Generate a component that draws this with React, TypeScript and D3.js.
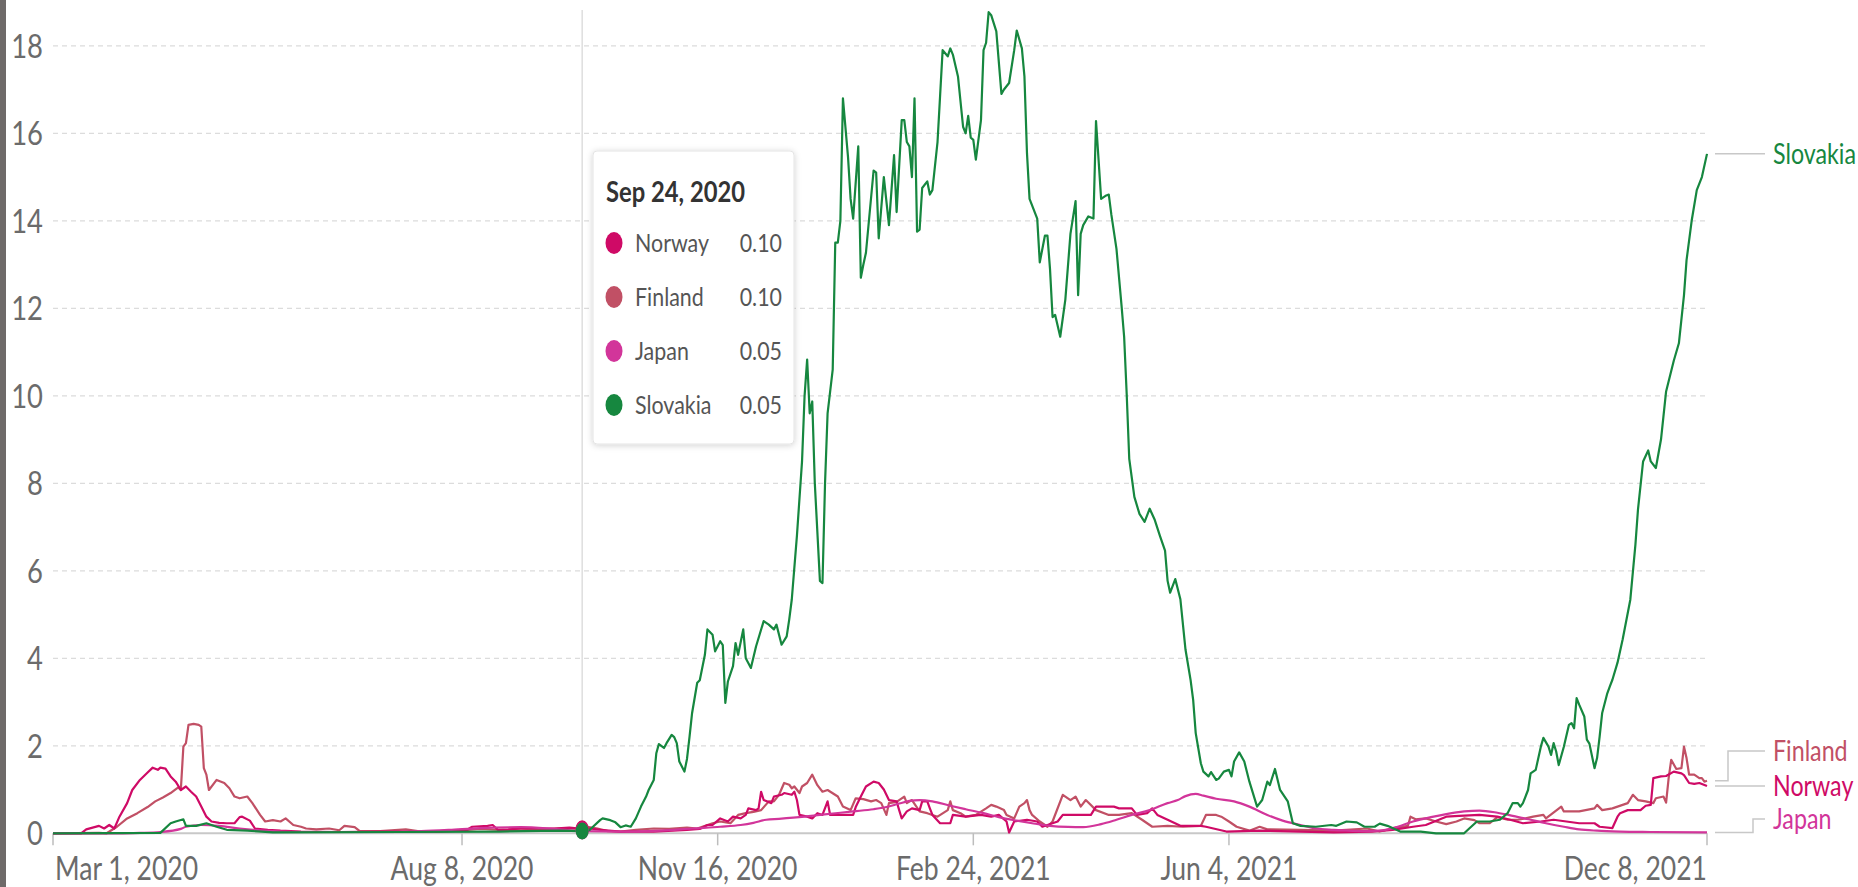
import React from 'react';
import * as d3 from 'd3';

// ---------- data (days since 2020-03-01, value) ----------
const START_DATE = new Date(2020, 2, 1);
const END_DATE = new Date(2021, 11, 8);

const yTicks = [0, 2, 4, 6, 8, 10, 12, 14, 16, 18];
const xTickDates = [
  new Date(2020, 2, 1),
  new Date(2020, 7, 8),
  new Date(2020, 10, 16),
  new Date(2021, 1, 24),
  new Date(2021, 5, 4),
  new Date(2021, 11, 8),
];
const xTickLabels = ['Mar 1, 2020', 'Aug 8, 2020', 'Nov 16, 2020', 'Feb 24, 2021', 'Jun 4, 2021', 'Dec 8, 2021'];

const seriesNames = ['Norway', 'Finland', 'Japan', 'Slovakia'];
const seriesColors = ['#CF0A66', '#C15065', '#D2359A', '#16873F'];
const hoverDate = new Date(2020, 8, 24);
const hoverLabel = 'Sep 24, 2020';
const hoverValues = ['0.10', '0.10', '0.05', '0.05'];

const norway: [number, number][] = [
  [0, 0], [11, 0], [13, 0.09], [18, 0.17], [20, 0.11], [22, 0.19], [24, 0.11], [26, 0.38], [29, 0.69],
  [31, 0.99], [34, 1.22], [37, 1.39], [39, 1.5], [41, 1.45], [42, 1.5], [44, 1.48], [46, 1.3], [48, 1.18],
  [50, 0.99], [52, 1.07], [54, 0.95], [56, 0.84], [58, 0.61], [60, 0.38], [62, 0.27], [65, 0.24], [68, 0.23],
  [71, 0.23], [73, 0.37], [74, 0.38], [77, 0.29], [79, 0.11], [84, 0.08], [89, 0.06], [97, 0.04], [112, 0.03],
  [128, 0.04], [144, 0.04], [151, 0.05], [162, 0.08], [164, 0.15], [170, 0.17], [172, 0.19], [174, 0.08],
  [178, 0.09], [183, 0.11], [196, 0.11], [202, 0.13], [207, 0.1], [210, 0.11], [214, 0.08], [222, 0.04],
  [235, 0.04], [248, 0.08], [253, 0.1], [256, 0.19], [258, 0.19], [261, 0.34], [264, 0.27], [266, 0.38],
  [269, 0.34], [271, 0.42], [272, 0.57], [275, 0.53], [276, 0.57], [277, 0.95], [278, 0.76], [281, 0.69],
  [282, 0.84], [285, 0.88], [286, 0.92], [289, 0.88], [290, 0.95], [291, 0.76], [292, 0.42], [295, 0.38],
  [297, 0.34], [299, 0.46], [301, 0.42], [303, 0.73], [304, 0.42], [308, 0.42], [313, 0.42], [314, 0.6],
  [316, 0.84], [318, 1.07], [321, 1.18], [323, 1.15], [325, 1.0], [327, 0.76], [330, 0.73], [331, 0.53],
  [332, 0.34], [334, 0.5], [336, 0.57], [339, 0.53], [340, 0.73], [342, 0.73], [343, 0.57], [344, 0.42],
  [347, 0.23], [351, 0.23], [352, 0.42], [357, 0.38], [363, 0.42], [367, 0.38], [370, 0.42], [373, 0.27],
  [374, 0.02], [376, 0.27], [381, 0.31], [385, 0.27], [387, 0.15], [393, 0.27], [395, 0.42], [400, 0.42],
  [406, 0.42], [408, 0.61], [415, 0.61], [417, 0.57], [422, 0.57], [424, 0.42], [428, 0.46], [430, 0.57],
  [432, 0.42], [436, 0.31], [441, 0.17], [449, 0.17], [451, 0.15], [459, 0.04], [472, 0.06], [488, 0.04],
  [501, 0.02], [516, 0.04], [524, 0.08], [532, 0.15], [537, 0.19], [545, 0.38], [550, 0.4], [558, 0.42],
  [565, 0.38], [570, 0.31], [575, 0.23], [582, 0.27], [587, 0.31], [592, 0.27], [597, 0.23], [603, 0.23],
  [605, 0.15], [610, 0.12], [612, 0.38], [613, 0.46], [616, 0.53], [621, 0.53], [623, 0.63], [625, 0.65],
  [626, 1.26], [629, 1.3], [631, 1.31], [634, 1.41], [637, 1.37], [638, 1.33], [640, 1.15], [642, 1.13],
  [644, 1.15], [647, 1.08],
];

const finland: [number, number][] = [
  [0, 0], [18, 0.01], [21, 0], [25, 0.15], [29, 0.34], [33, 0.46], [37, 0.6], [40, 0.73], [43, 0.82],
  [46, 0.92], [49, 1.05], [50, 0.99], [51, 1.98], [52, 2.06], [53, 2.48], [55, 2.5], [57, 2.48], [58, 2.44],
  [59, 1.49], [60, 1.34], [61, 0.99], [64, 1.22], [67, 1.15], [69, 1.03], [71, 0.84], [73, 0.8], [76, 0.84],
  [78, 0.69], [81, 0.42], [83, 0.27], [86, 0.3], [89, 0.27], [91, 0.34], [94, 0.19], [97, 0.15], [99, 0.11],
  [103, 0.09], [108, 0.11], [112, 0.07], [114, 0.17], [118, 0.14], [120, 0.05], [128, 0.05], [138, 0.09],
  [144, 0.04], [151, 0.03], [159, 0.06], [167, 0.1], [175, 0.08], [183, 0.07], [196, 0.1], [202, 0.12],
  [207, 0.1], [209, 0.15], [213, 0.11], [217, 0.05], [222, 0.04], [228, 0.08], [235, 0.11], [241, 0.1],
  [248, 0.13], [252, 0.11], [258, 0.23], [261, 0.27], [265, 0.23], [268, 0.42], [271, 0.46], [274, 0.49],
  [277, 0.53], [280, 0.73], [282, 0.73], [284, 0.88], [286, 1.15], [288, 1.11], [289, 1.03], [290, 1.07],
  [292, 0.92], [293, 1.07], [295, 1.15], [297, 1.34], [299, 1.1], [301, 0.95], [303, 0.99], [307, 0.84],
  [309, 0.61], [312, 0.53], [314, 0.8], [317, 0.78], [320, 0.73], [322, 0.76], [324, 0.69], [326, 0.42],
  [327, 0.69], [330, 0.72], [331, 0.76], [333, 0.84], [334, 0.69], [336, 0.76], [339, 0.5], [342, 0.46],
  [346, 0.38], [350, 0.53], [351, 0.73], [352, 0.53], [355, 0.46], [357, 0.38], [361, 0.42], [365, 0.57],
  [367, 0.65], [369, 0.61], [372, 0.53], [373, 0.42], [376, 0.34], [378, 0.61], [380, 0.69], [381, 0.76],
  [382, 0.53], [383, 0.42], [386, 0.27], [389, 0.15], [391, 0.27], [395, 0.88], [397, 0.8], [398, 0.76],
  [400, 0.84], [402, 0.61], [404, 0.76], [408, 0.53], [413, 0.42], [417, 0.42], [422, 0.46], [426, 0.31],
  [430, 0.15], [436, 0.17], [442, 0.15], [449, 0.17], [451, 0.42], [455, 0.42], [457, 0.38], [460, 0.27],
  [463, 0.15], [468, 0.06], [472, 0.15], [475, 0.09], [488, 0.08], [501, 0.06], [514, 0.11], [519, 0.04],
  [524, 0.11], [530, 0.17], [531, 0.38], [533, 0.32], [537, 0.34], [541, 0.27], [545, 0.21], [549, 0.27],
  [552, 0.34], [556, 0.3], [558, 0.23], [562, 0.23], [565, 0.37], [569, 0.31], [573, 0.31], [576, 0.34],
  [579, 0.38], [583, 0.42], [584, 0.34], [590, 0.61], [591, 0.5], [597, 0.5], [603, 0.57], [604, 0.65],
  [606, 0.53], [610, 0.57], [616, 0.69], [618, 0.88], [620, 0.76], [623, 0.73], [626, 0.69], [627, 0.8],
  [630, 0.84], [631, 0.7], [632, 1.26], [633, 1.68], [635, 1.47], [637, 1.49], [638, 1.98], [639, 1.72],
  [640, 1.34], [642, 1.34], [644, 1.26], [645, 1.26], [646, 1.18], [647, 1.2],
];

const japan: [number, number][] = [
  [0, 0], [26, 0], [34, 0.01], [42, 0.03], [50, 0.1], [52, 0.15], [58, 0.19], [65, 0.17], [73, 0.11],
  [86, 0.05], [97, 0.03], [128, 0.03], [144, 0.05], [155, 0.08], [167, 0.12], [183, 0.14], [196, 0.1],
  [207, 0.05], [222, 0.04], [238, 0.06], [250, 0.11], [261, 0.15], [269, 0.19], [274, 0.24], [279, 0.31],
  [284, 0.33], [294, 0.38], [300, 0.42], [313, 0.5], [321, 0.55], [326, 0.6], [331, 0.68], [335, 0.74],
  [339, 0.76], [344, 0.73], [351, 0.63], [357, 0.55], [364, 0.46], [370, 0.37], [377, 0.29], [383, 0.23],
  [390, 0.17], [397, 0.145], [403, 0.14], [410, 0.21], [416, 0.31], [422, 0.42], [429, 0.53], [436, 0.69],
  [440, 0.76], [443, 0.85], [447, 0.9], [450, 0.86], [455, 0.79], [462, 0.73], [468, 0.61], [475, 0.42],
  [481, 0.29], [488, 0.19], [494, 0.11], [501, 0.08], [514, 0.05], [519, 0.06], [526, 0.15], [532, 0.27],
  [539, 0.37], [545, 0.44], [552, 0.5], [558, 0.52], [565, 0.47], [571, 0.4], [578, 0.31], [584, 0.23],
  [591, 0.15], [597, 0.09], [604, 0.06], [613, 0.04], [625, 0.03], [647, 0.02],
];

const slovakia: [number, number][] = [
  [0, 0], [42, 0.01], [46, 0.23], [48, 0.27], [51, 0.32], [52, 0.17], [56, 0.17], [60, 0.23], [64, 0.15],
  [68, 0.08], [76, 0.06], [86, 0.02], [136, 0.03], [175, 0.04], [198, 0.06], [207, 0.05], [210, 0.08],
  [214, 0.3], [215, 0.34], [218, 0.3], [220, 0.25], [222, 0.14], [224, 0.18], [226, 0.15], [228, 0.34],
  [230, 0.61], [232, 0.84], [233, 0.99], [235, 1.22], [236, 1.83], [237, 2.04], [239, 1.95], [240, 2.06],
  [242, 2.25], [243, 2.2], [244, 2.06], [245, 1.64], [247, 1.41], [248, 1.7], [249, 2.21], [250, 2.75],
  [252, 3.44], [253, 3.5], [255, 4.08], [256, 4.66], [258, 4.54], [259, 4.16], [261, 4.39], [262, 4.3],
  [263, 2.98], [264, 3.47], [266, 3.82], [267, 4.35], [268, 4.08], [270, 4.66], [271, 4.0], [273, 3.78],
  [275, 4.27], [278, 4.85], [280, 4.77], [282, 4.66], [283, 4.77], [285, 4.31], [287, 4.5], [288, 4.89],
  [289, 5.35], [291, 6.8], [293, 8.5], [294, 10.0], [295, 10.83], [296, 9.6], [297, 9.87], [298, 8.0],
  [300, 5.77], [301, 5.72], [302, 8.0], [303, 9.6], [305, 10.6], [306, 13.5], [307, 13.5], [308, 14.0],
  [309, 16.8], [311, 15.45], [312, 14.5], [313, 14.05], [315, 15.7], [316, 12.7], [317, 13.0], [318, 13.27],
  [321, 15.15], [322, 15.1], [323, 13.6], [325, 15.0], [327, 13.9], [329, 15.5], [330, 14.2], [332, 16.3],
  [333, 16.3], [334, 15.8], [335, 15.7], [336, 15.0], [337, 16.8], [338, 13.75], [339, 13.8], [340, 14.75],
  [342, 14.9], [343, 14.6], [344, 14.7], [346, 15.8], [347, 16.85], [348, 17.9], [350, 17.76], [351, 17.94],
  [352, 17.8], [354, 17.3], [356, 16.15], [357, 16.0], [358, 16.4], [359, 15.9], [360, 15.85], [361, 15.4],
  [363, 16.3], [364, 17.9], [365, 18.07], [366, 18.77], [367, 18.7], [369, 18.33], [371, 16.9], [372, 17.0],
  [374, 17.15], [376, 17.9], [377, 18.35], [379, 17.94], [380, 17.3], [381, 15.54], [382, 14.5], [385, 14.05],
  [386, 13.05], [388, 13.66], [389, 13.66], [390, 12.9], [391, 11.8], [392, 11.85], [394, 11.35], [396, 12.2],
  [398, 13.7], [400, 14.45], [401, 12.3], [402, 13.7], [403, 13.9], [405, 14.1], [407, 14.05], [408, 16.28],
  [410, 14.5], [412, 14.58], [413, 14.6], [414, 14.14], [416, 13.36], [418, 12.05], [419, 11.35], [420, 10.04],
  [421, 8.56], [423, 7.69], [425, 7.3], [427, 7.12], [429, 7.42], [431, 7.16], [433, 6.8], [435, 6.46],
  [436, 5.77], [437, 5.5], [439, 5.81], [441, 5.35], [443, 4.2], [445, 3.5], [446, 3.05], [447, 2.29],
  [449, 1.6], [450, 1.41], [452, 1.3], [453, 1.4], [455, 1.22], [456, 1.25], [458, 1.41], [460, 1.45],
  [461, 1.3], [462, 1.64], [464, 1.85], [466, 1.64], [468, 1.18], [471, 0.61], [473, 0.76], [475, 1.18],
  [476, 1.1], [478, 1.47], [480, 0.99], [483, 0.73], [485, 0.23], [488, 0.17], [494, 0.15], [500, 0.19],
  [502, 0.17], [506, 0.27], [510, 0.25], [513, 0.15], [517, 0.15], [519, 0.22], [522, 0.17], [527, 0.04],
  [535, 0.04], [541, 0], [552, 0], [554, 0.11], [557, 0.27], [562, 0.27], [566, 0.31], [569, 0.46],
  [571, 0.69], [573, 0.69], [574, 0.61], [575, 0.69], [577, 0.99], [578, 1.37], [580, 1.45], [582, 1.98],
  [583, 2.18], [585, 1.98], [586, 1.79], [587, 2.06], [588, 1.87], [589, 1.56], [591, 1.98], [593, 2.48],
  [594, 2.52], [595, 2.4], [596, 3.09], [597, 2.94], [599, 2.67], [600, 2.14], [601, 2.05], [603, 1.49],
  [604, 1.72], [605, 2.21], [606, 2.75], [608, 3.2], [609, 3.36], [610, 3.51], [612, 3.9], [614, 4.43],
  [617, 5.34], [619, 6.6], [620, 7.4], [622, 8.5], [624, 8.75], [625, 8.5], [627, 8.35], [629, 9.0],
  [631, 10.1], [634, 10.8], [636, 11.2], [638, 12.3], [639, 13.1], [641, 14.0], [643, 14.7], [645, 15.0],
  [647, 15.53],
];

const seriesData = [norway, finland, japan, slovakia];
const drawOrder = [1, 0, 2, 3];

// ---------- layout ----------
const W = 1858;
const H = 887;
const KX = 0.83; // horizontal text squeeze seen in the reference

const x = d3.scaleTime().domain([START_DATE, END_DATE]).range([53, 1707]);
const y = d3.scaleLinear().domain([0, 18]).range([833.3, 45.8]);
const dayToDate = (d: number) => d3.timeDay.offset(START_DATE, d);

function SText(props: {
  x: number; y: number; anchor?: string; size: number; fill: string; weight?: number | string; kx?: number; children: any;
}) {
  const k = props.kx ?? KX;
  return (
    <text
      transform={`translate(${props.x},${props.y}) scale(${k},1)`}
      textAnchor={props.anchor ?? 'start'}
      fontSize={props.size}
      fontFamily="Lato, 'Noto Sans', sans-serif"
      fontWeight={props.weight ?? 400}
      fill={props.fill}
    >
      {props.children}
    </text>
  );
}

export default function App() {
  const lineGen = d3
    .line<[number, number]>()
    .x((d) => x(dayToDate(d[0])))
    .y((d) => y(d[1]));
  const smoothGen = d3
    .line<[number, number]>()
    .x((d) => x(dayToDate(d[0])))
    .y((d) => y(d[1]))
    .curve(d3.curveMonotoneX);

  const x0 = x(START_DATE);
  const x1 = x(END_DATE);
  const hx = x(hoverDate);

  // end labels
  const endY = seriesData.map((s) => y(s[s.length - 1][1]));
  const labelY = [786, 751, 819, endY[3]]; // Norway, Finland, Japan, Slovakia

  const rowY0 = 243;
  const rowStep = 54;

  return (
    <svg width={W} height={H} style={{ position: 'absolute', left: 0, top: 0, display: 'block', background: '#fff' }}>
      <defs>
        <filter id="tipShadow" x="-20%" y="-20%" width="140%" height="140%">
          <feDropShadow dx="0" dy="1" stdDeviation="3" floodColor="#000" floodOpacity="0.18" />
        </filter>
      </defs>
      <rect x={0} y={0} width={W} height={H} fill="#fff" />
      <rect x={0} y={0} width={6} height={H} fill="#6e6a69" />

      {/* grid */}
      {yTicks.filter((t) => t > 0).map((t) => (
        <line key={t} x1={x0} x2={x1} y1={y(t)} y2={y(t)} stroke="#dcdcdc" strokeWidth={1.2} strokeDasharray="5,4" />
      ))}
      {/* y labels */}
      {yTicks.map((t) => (
        <SText key={t} x={43} y={y(t) + 12} anchor="end" size={33} fill="#6b6b6b">
          {t}
        </SText>
      ))}

      {/* baseline + x ticks */}
      <line x1={x0} x2={x1} y1={y(0)} y2={y(0)} stroke="#c8c8c8" strokeWidth={2} />
      {xTickDates.map((d, i) => (
        <line key={i} x1={x(d)} x2={x(d)} y1={y(0)} y2={y(0) + 12} stroke="#bdbdbd" strokeWidth={1.5} />
      ))}
      {xTickDates.map((d, i) => (
        <SText
          key={i}
          x={i === 0 ? x(d) + 2 : i === xTickDates.length - 1 ? x(d) : x(d)}
          y={880}
          anchor={i === 0 ? 'start' : i === xTickDates.length - 1 ? 'end' : 'middle'}
          size={32}
          fill="#6b6b6b"
        >
          {xTickLabels[i]}
        </SText>
      ))}

      {/* hover line */}
      <line x1={hx} x2={hx} y1={10} y2={y(0)} stroke="#dedede" strokeWidth={1.5} />

      {/* series */}
      {drawOrder.map((i) => (
        <path
          key={seriesNames[i]}
          d={(i === 2 ? smoothGen : lineGen)(seriesData[i]) ?? ''}
          fill="none"
          stroke={seriesColors[i]}
          strokeWidth={2.2}
          strokeLinejoin="round"
        />
      ))}

      {/* hover markers */}
      {drawOrder.map((i) => (
        <ellipse key={i} cx={hx} cy={y(parseFloat(hoverValues[i]))} rx={6.5} ry={8.5} fill={seriesColors[i]} />
      ))}

      {/* end-label connectors */}
      <line x1={x1 + 8} x2={1765} y1={endY[3]} y2={endY[3]} stroke="#c8c8c8" strokeWidth={1.5} />
      <polyline
        points={`${x1 + 8},${endY[1]} ${1728},${endY[1]} ${1728},${labelY[1]} ${1765},${labelY[1]}`}
        fill="none" stroke="#c8c8c8" strokeWidth={1.5}
      />
      <polyline
        points={`${x1 + 8},${endY[0]} ${1745},${endY[0]} ${1745},${labelY[0]} ${1765},${labelY[0]}`}
        fill="none" stroke="#c8c8c8" strokeWidth={1.5}
      />
      <polyline
        points={`${x1 + 8},${endY[2]} ${1753},${endY[2]} ${1753},${labelY[2]} ${1765},${labelY[2]}`}
        fill="none" stroke="#c8c8c8" strokeWidth={1.5}
      />
      {[3, 1, 0, 2].map((i) => (
        <SText key={i} x={1773} y={labelY[i] + 10} size={28} fill={seriesColors[i]}>
          {seriesNames[i]}
        </SText>
      ))}

      {/* tooltip */}
      <g>
        <rect x={593} y={151} width={201} height={293} rx={4} fill="#fff" stroke="#e4e4e4" strokeWidth={1} filter="url(#tipShadow)" />
        <SText x={606} y={202} size={28} weight={700} fill="#333" kx={0.85}>
          {hoverLabel}
        </SText>
        {seriesNames.map((n, i) => (
          <g key={n}>
            <ellipse cx={614} cy={rowY0 + i * rowStep} rx={8.5} ry={11} fill={seriesColors[i]} />
            <SText x={635} y={rowY0 + i * rowStep + 9} size={25.5} fill="#555" kx={0.84}>
              {n}
            </SText>
            <SText x={782} y={rowY0 + i * rowStep + 9} anchor="end" size={25.5} fill="#555" kx={0.84}>
              {hoverValues[i]}
            </SText>
          </g>
        ))}
      </g>
    </svg>
  );
}
